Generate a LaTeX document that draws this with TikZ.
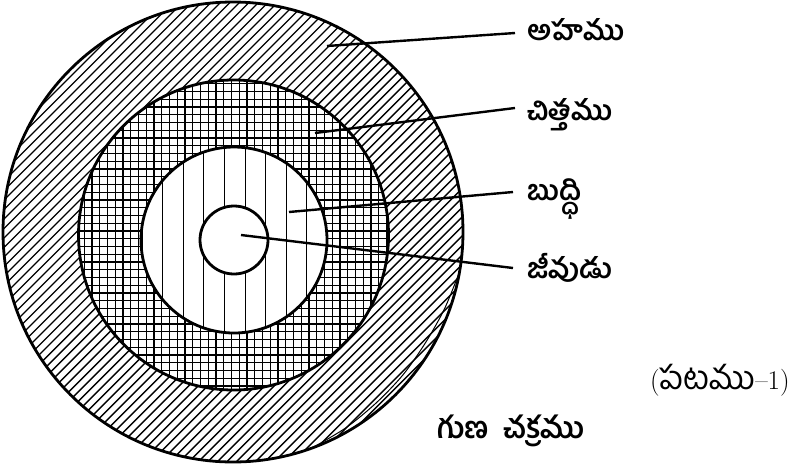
\documentclass[tikz,border=0pt]{standalone}
\usepackage{fontspec}
\newfontfamily\tel[Script=Telugu]{Hind Guntur}
\begin{document}
\begin{tikzpicture}[x=1pt,y=-1pt,
  ring/.style={line width=2.8pt, draw=black},
  hatch/.style={line width=1.4pt},
  gridln/.style={line width=1.3pt},
  stripe/.style={line width=1pt},
  leader/.style={line width=2.4pt},
  lbl/.style={font=\tel\bfseries\fontsize{28}{30}\selectfont, inner sep=0pt, anchor=base west},
  figlbl/.style={font=\fontsize{27}{30}\selectfont, inner sep=0pt, anchor=base west}]
\useasboundingbox (0,0) rectangle (794,464);
\fill[white] (0,0) rectangle (794,464);
\coordinate (c1) at (233,232);
\coordinate (c2) at (233.5,235);
\coordinate (c3) at (234,240);
\coordinate (c4) at (234,240);
% outer hatched ring
\begin{scope}
  \clip (c1) circle[radius=230pt];
  \foreach \i in {-52,...,52} \draw[hatch] (\i*9.5, 470) -- ++(470,-470);
\end{scope}
% grid ring
\fill[white] (c2) circle[radius=155pt];
\begin{scope}
  \clip (c2) circle[radius=155pt];
  \foreach \i in {-1,...,42} {
    \draw[gridln] (76.5+\i*7.75, 70) -- ++(0,340);
    \draw[gridln] (70, 76+\i*7.75) -- ++(340,0);
  }
\end{scope}
% striped ring
\fill[white] (c3) circle[radius=93pt];
\begin{scope}
  \clip (c3) circle[radius=93pt];
  \foreach \i in {0,...,10} \draw[stripe] (142+\i*20.6, 140) -- ++(0,200);
\end{scope}
\fill[white] (c4) circle[radius=34pt];
% outlines
\draw[ring] (c1) circle[radius=230pt];
\draw[ring] (c2) circle[radius=155pt];
\draw[ring] (c3) circle[radius=93pt];
\draw[ring] (c4) circle[radius=34pt];
\draw[line width=1pt] plot[smooth] coordinates {(459.5,271.9) (444.4,309) (425.3,343) (403.1,374.7) (376.3,402.8) (346,427.7) (311.7,448.1)};
% labels
\node[lbl] (l1) at (527,40) {అహము};
\node[lbl] (l2) at (527,120) {చిత్తము};
\node[lbl] (l3) at (527,200) {బుద్ధి};
\node[lbl] (l4) at (527,278) {జీవుడు};
\node[figlbl] (fig) at (650,389) {({\tel\fontsize{33}{34}\selectfont పటము}--1)};
\node[lbl, font=\tel\bfseries\fontsize{30}{32}\selectfont] (title) at (437,438) {గుణ\hspace{14pt}చక్రము};
% leaders
\coordinate (p1) at (327,46);  \coordinate (e1) at (515,33);
\coordinate (p2) at (315,133); \coordinate (e2) at (515,108);
\coordinate (p3) at (289,212); \coordinate (e3) at (513,192);
\coordinate (p4) at (241,235); \coordinate (e4) at (513,268);
\draw[leader] (p1) -- (e1);
\draw[leader] (p2) -- (e2);
\draw[leader] (p3) -- (e3);
\draw[leader] (p4) -- (e4);
\end{tikzpicture}
\end{document}
